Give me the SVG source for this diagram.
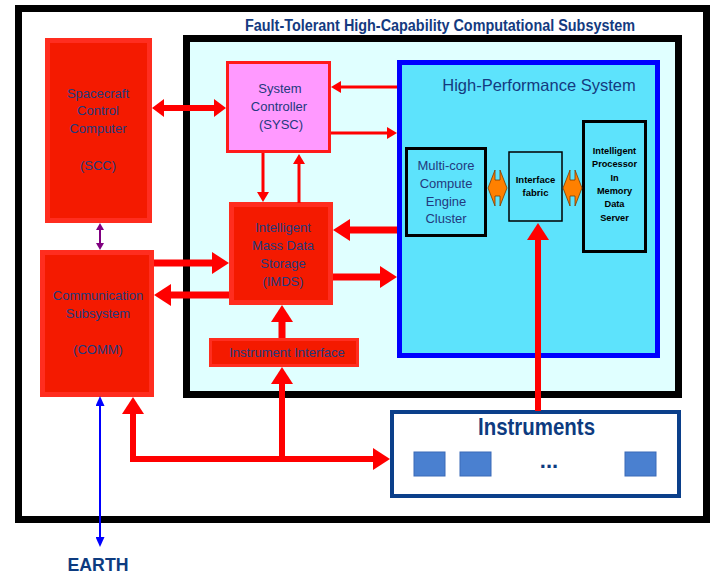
<svg xmlns="http://www.w3.org/2000/svg" width="715" height="575" viewBox="0 0 715 575">
<defs>
<style>
.lbl{font-family:"Liberation Sans",Arial,sans-serif;font-size:13px;fill:#233a7e;text-anchor:middle}
.sm{font-family:"Liberation Sans",Arial,sans-serif;font-weight:bold;fill:#000;text-anchor:middle}
.red{fill:#f41a00;stroke:#ff2d1f;stroke-width:5}
.cy{fill:#5de3fc}
.rl{stroke:#ff0000;fill:none}
.sq{fill:#4a80d0;stroke:#3a6ab8;stroke-width:1}
</style>
<marker id="big" markerUnits="userSpaceOnUse" markerWidth="17" markerHeight="22" viewBox="0 0 17 22" refX="0" refY="11" orient="auto-start-reverse"><path d="M0,0 L17,11 L0,22 z" fill="#ff0000"/></marker>
<marker id="mid" markerUnits="userSpaceOnUse" markerWidth="12" markerHeight="18" viewBox="0 0 12 18" refX="0" refY="9" orient="auto-start-reverse"><path d="M0,0 L12,9 L0,18 z" fill="#ff0000"/></marker>
<marker id="thin" markerUnits="userSpaceOnUse" markerWidth="10" markerHeight="12" viewBox="0 0 10 12" refX="0" refY="6" orient="auto-start-reverse"><path d="M0,0 L10,6 L0,12 z" fill="#ff0000"/></marker>
<marker id="pur" markerUnits="userSpaceOnUse" markerWidth="7" markerHeight="8" viewBox="0 0 7 8" refX="0" refY="4" orient="auto-start-reverse"><path d="M0,0 L7,4 L0,8 z" fill="#800080"/></marker>
<marker id="blu" markerUnits="userSpaceOnUse" markerWidth="10" markerHeight="9" viewBox="0 0 10 9" refX="0" refY="4.5" orient="auto-start-reverse"><path d="M0,0 L10,4.5 L0,9 z" fill="#0000ff"/></marker>
</defs>
<rect width="715" height="575" fill="#fff"/>
<g id="frame">
<rect x="18.5" y="8.5" width="688" height="511" fill="#fff" stroke="#000" stroke-width="7"/>
<text x="440" y="31" text-anchor="middle" textLength="390" lengthAdjust="spacingAndGlyphs" style="font-family:'Liberation Sans',Arial,sans-serif;font-weight:bold;font-size:16px;fill:#143a80">Fault-Tolerant High-Capability Computational Subsystem</text>
</g>
<g id="ftsubsystem">
<rect x="186.5" y="38.5" width="492" height="356" fill="#e0ffff" stroke="#000" stroke-width="7"/>
</g>
<g id="scc">
<rect class="red" x="47.5" y="40.5" width="102" height="180"/>
<text class="lbl" x="98" y="98">Spacecraft</text>
<text class="lbl" x="98" y="115">Control</text>
<text class="lbl" x="98" y="133">Computer</text>
<text class="lbl" x="98" y="170">(SCC)</text>
</g>
<g id="comm">
<rect class="red" x="42.5" y="252.5" width="109" height="142"/>
<text class="lbl" x="98" y="300">Communication</text>
<text class="lbl" x="98" y="318">Subsystem</text>
<text class="lbl" x="98" y="354">(COMM)</text>
</g>
<g id="sysc">
<rect x="227.5" y="62.5" width="102" height="89" fill="#ff99ff" stroke="#ff1a1a" stroke-width="3"/>
<text class="lbl" x="280" y="93">System</text>
<text class="lbl" x="279" y="111">Controller</text>
<text class="lbl" x="281" y="129">(SYSC)</text>
</g>
<g id="imds">
<rect class="red" x="231.5" y="204.5" width="99" height="98"/>
<text class="lbl" x="283" y="232">Intelligent</text>
<text class="lbl" x="283" y="250">Mass Data</text>
<text class="lbl" x="283" y="268">Storage</text>
<text class="lbl" x="283" y="286">(IMDS)</text>
</g>
<g id="instif">
<rect x="210.5" y="339.5" width="147" height="26" fill="#f41a00" stroke="#ff2d1f" stroke-width="3"/>
<text class="lbl" x="287" y="357">Instrument Interface</text>
</g>
<g id="hps">
<rect class="cy" x="399.5" y="62.5" width="258" height="293" stroke="#0000ff" stroke-width="5"/>
<text x="539" y="91" text-anchor="middle" style="font-family:'Liberation Sans',Arial,sans-serif;font-size:16.5px;fill:#143a80">High-Performance System</text>
</g>
<g id="multicore">
<rect class="cy" x="406.5" y="148.5" width="79" height="87" stroke="#000" stroke-width="3"/>
<text class="lbl" x="446" y="170">Multi-core</text>
<text class="lbl" x="446" y="188">Compute</text>
<text class="lbl" x="446" y="206">Engine</text>
<text class="lbl" x="446" y="223">Cluster</text>
</g>
<g id="fabric">
<rect class="cy" x="509" y="152" width="53" height="69" stroke="#000" stroke-width="1.5"/>
<text class="sm" x="535.5" y="183" style="font-size:9.5px">Interface</text>
<text class="sm" x="535.5" y="196" style="font-size:9.5px">fabric</text>
</g>
<g id="ipmds">
<rect class="cy" x="583.5" y="121.5" width="62" height="130" stroke="#000" stroke-width="3"/>
<text class="sm" x="614.5" y="154" style="font-size:9.2px">Intelligent</text>
<text class="sm" x="614.5" y="167" style="font-size:9.2px">Processor</text>
<text class="sm" x="614.5" y="181" style="font-size:9.2px">In</text>
<text class="sm" x="614.5" y="194" style="font-size:9.2px">Memory</text>
<text class="sm" x="614.5" y="207" style="font-size:9.2px">Data</text>
<text class="sm" x="614.5" y="221" style="font-size:9.2px">Server</text>
</g>
<g id="instruments">
<rect x="392" y="412" width="287" height="84" fill="#fff" stroke="#0b3f8a" stroke-width="4"/>
<text x="536.5" y="435" text-anchor="middle" textLength="117" lengthAdjust="spacingAndGlyphs" style="font-family:'Liberation Sans',Arial,sans-serif;font-weight:bold;font-size:24px;fill:#0d3b80">Instruments</text>
<rect class="sq" x="414" y="452" width="31" height="24"/>
<rect class="sq" x="460" y="452" width="31" height="24"/>
<rect class="sq" x="625" y="452" width="31" height="24"/>
<text x="549" y="468" text-anchor="middle" style="font-family:'Liberation Sans',Arial,sans-serif;font-weight:bold;font-size:22px;fill:#0d3b80">...</text>
</g>
<g id="earth">
<text x="98" y="571" text-anchor="middle" textLength="61" lengthAdjust="spacingAndGlyphs" style="font-family:'Liberation Sans',Arial,sans-serif;font-weight:bold;font-size:18px;fill:#0d3b80">EARTH</text>
</g>
<g id="connectors">
<path d="M488,188 L495,170 L495,180 L500,180 L500,170 L507,188 L500,206 L500,196 L495,196 L495,206 Z" fill="#ff8000" stroke="#7a3a00" stroke-width="0.8"/>
<path d="M563,188 L570,170 L570,180 L575,180 L575,170 L582,188 L575,206 L575,196 L570,196 L570,206 Z" fill="#ff8000" stroke="#7a3a00" stroke-width="0.8"/>
<line class="rl" x1="164" y1="108" x2="214" y2="108" stroke-width="6" marker-start="url(#mid)" marker-end="url(#mid)"/>
<line class="rl" x1="397" y1="87" x2="341" y2="87" stroke-width="3" marker-end="url(#thin)"/>
<line class="rl" x1="331" y1="133" x2="387" y2="133" stroke-width="3" marker-end="url(#thin)"/>
<line class="rl" x1="263" y1="153" x2="263" y2="192" stroke-width="3" marker-end="url(#thin)"/>
<line class="rl" x1="299" y1="203" x2="299" y2="164" stroke-width="3" marker-end="url(#thin)"/>
<line class="rl" x1="397" y1="230" x2="350" y2="230" stroke-width="7" marker-end="url(#big)"/>
<line class="rl" x1="333" y1="277" x2="380" y2="277" stroke-width="7" marker-end="url(#big)"/>
<line class="rl" x1="154" y1="263" x2="212" y2="263" stroke-width="7" marker-end="url(#big)"/>
<line class="rl" x1="229" y1="295" x2="171" y2="295" stroke-width="7" marker-end="url(#big)"/>
<line class="rl" x1="282" y1="338" x2="282" y2="322" stroke-width="7" marker-end="url(#big)"/>
<path class="rl" d="M133,414 L133,459 L373,459" stroke-width="6" stroke-linejoin="miter" marker-start="url(#big)" marker-end="url(#big)"/>
<line class="rl" x1="282" y1="459" x2="282" y2="384" stroke-width="6" marker-end="url(#big)"/>
<line class="rl" x1="538" y1="411" x2="538" y2="240" stroke-width="6" marker-end="url(#big)"/>
<line x1="100" y1="230" x2="100" y2="243" stroke="#800080" stroke-width="2" marker-start="url(#pur)" marker-end="url(#pur)"/>
<line x1="100" y1="406" x2="100" y2="537" stroke="#0000ff" stroke-width="2" marker-start="url(#blu)" marker-end="url(#blu)"/>
</g>
</svg>
